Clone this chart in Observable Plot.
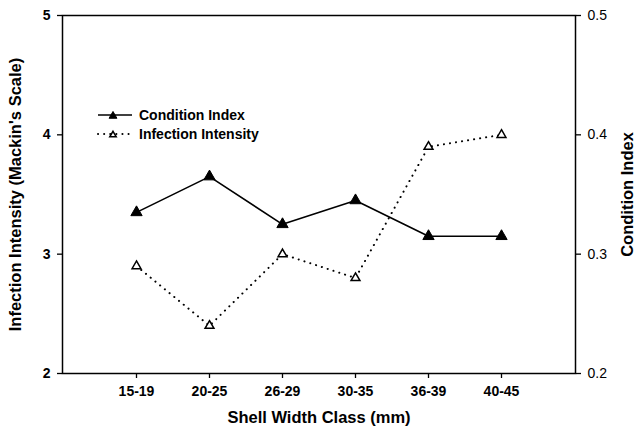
<!DOCTYPE html>
<html>
<head>
<meta charset="utf-8">
<script src="https://cdn.jsdelivr.net/npm/d3@7"></script>
<script src="https://cdn.jsdelivr.net/npm/@observablehq/plot@0.6"></script>
<style>
  body { margin: 0; background: #fff; }
  #wrap { position: relative; width: 635px; height: 436px; font-family: "Liberation Sans", Arial, Helvetica, sans-serif; }
  #legend { position: absolute; left: 97px; top: 105.5px; font-weight: bold; font-size: 14px; color: #000; }
  #legend .row { display: flex; align-items: center; height: 19px; white-space: nowrap; }
  #legend svg { display: block; margin-right: 6px; }
</style>
</head>
<body>
<div id="wrap">
  <div id="legend"></div>
</div>
<script>
// ---- data ----
const classes = ["15-19", "20-25", "26-29", "30-35", "36-39", "40-45"];
const conditionIndex = [0.335, 0.365, 0.325, 0.345, 0.315, 0.315];
const infectionIntensity = [2.9, 2.4, 3.0, 2.8, 3.9, 4.0];
const leftTicks = [2, 3, 4, 5];
const rightTicks = [0.2, 0.3, 0.4, 0.5];
const seriesNames = ["Condition Index", "Infection Intensity"];
const xTitle = "Shell Width Class (mm)";
const leftTitle = "Infection Intensity (Mackin's Scale)";
const rightTitle = "Condition Index";

// map the right-axis (condition index) onto the left scale
const toLeft = v => 2 + (v - 0.2) * 10;
const fromLeft = d => (d - 2) / 10 + 0.2;

const table = classes.map((c, i) => ({
  cls: c,
  ci: toLeft(conditionIndex[i]),
  ii: infectionIntensity[i]
}));

const font = '"Liberation Sans", Arial, Helvetica, sans-serif';

const chart = Plot.plot({
  width: 635,
  height: 436,
  marginLeft: 62,
  marginRight: 60,
  marginTop: 15,
  marginBottom: 63,
  style: { fontFamily: font, fontSize: "14px", color: "#000", background: "#fff", overflow: "visible" },
  x: { type: "point", domain: classes, padding: 1 },
  y: { domain: [2, 5] },
  marks: [
    Plot.frame({ stroke: "#000", strokeWidth: 1.5 }),
    Plot.axisX({ tickSize: 5, tickPadding: 8, fontWeight: "bold", label: null, strokeWidth: 1.3 }),
    Plot.axisY({ anchor: "left", ticks: leftTicks, tickFormat: d => String(Math.round(d)), tickSize: 5, tickPadding: 7, fontWeight: "bold", label: null, strokeWidth: 1.3 }),
    Plot.axisY({ anchor: "right", ticks: rightTicks.map(toLeft), tickFormat: d => fromLeft(d).toFixed(1),
                 tickSize: 5, tickPadding: 7, label: null, strokeWidth: 1.3 }),
    Plot.line(table, { x: "cls", y: "ii", stroke: "#000", strokeWidth: 2, strokeDasharray: "0.1,6", strokeLinecap: "round" }),
    Plot.line(table, { x: "cls", y: "ci", stroke: "#000", strokeWidth: 1.6 }),
    Plot.dot(table, { x: "cls", y: "ii", symbol: "triangle", r: 3.3, fill: "#fff", stroke: "#000", strokeWidth: 1.5 }),
    Plot.dot(table, { x: "cls", y: "ci", symbol: "triangle", r: 4.2, fill: "#000", stroke: "#000", strokeWidth: 1 }),
    Plot.text([xTitle], { frameAnchor: "bottom", dy: 49, fontSize: 16.5, fontWeight: "bold", fill: "#000", textAnchor: "middle" }),
    Plot.text([leftTitle], { frameAnchor: "left", dx: -47, rotate: -90, fontSize: 16.5, fontWeight: "bold", fill: "#000", textAnchor: "middle" }),
    Plot.text([rightTitle], { frameAnchor: "right", dx: 52, rotate: -90, fontSize: 16.5, fontWeight: "bold", fill: "#000", textAnchor: "middle" })
  ]
});

document.getElementById("wrap").insertBefore(chart, document.getElementById("legend"));

// legend
const legend = d3.select("#legend");
const swatches = [
  { name: seriesNames[0], dash: null, fill: "#000", size: 44 },
  { name: seriesNames[1], dash: "0.1,6", fill: "#fff", size: 30 }
];
swatches.forEach(s => {
  const row = legend.append("div").attr("class", "row");
  const svg = row.append("svg").attr("width", 36).attr("height", 14);
  svg.append("line").attr("x1", 1).attr("x2", 35).attr("y1", 7).attr("y2", 7)
    .attr("stroke", "#000").attr("stroke-width", s.dash ? 2 : 1.6)
    .attr("stroke-dasharray", s.dash).attr("stroke-linecap", s.dash ? "round" : null);
  svg.append("path").attr("d", d3.symbol(d3.symbolTriangle2, s.size)())
    .attr("transform", "translate(16,8)")
    .attr("fill", s.fill).attr("stroke", "#000").attr("stroke-width", s.dash ? 1.5 : 1);
  row.append("span").text(s.name);
});
</script>
</body>
</html>
